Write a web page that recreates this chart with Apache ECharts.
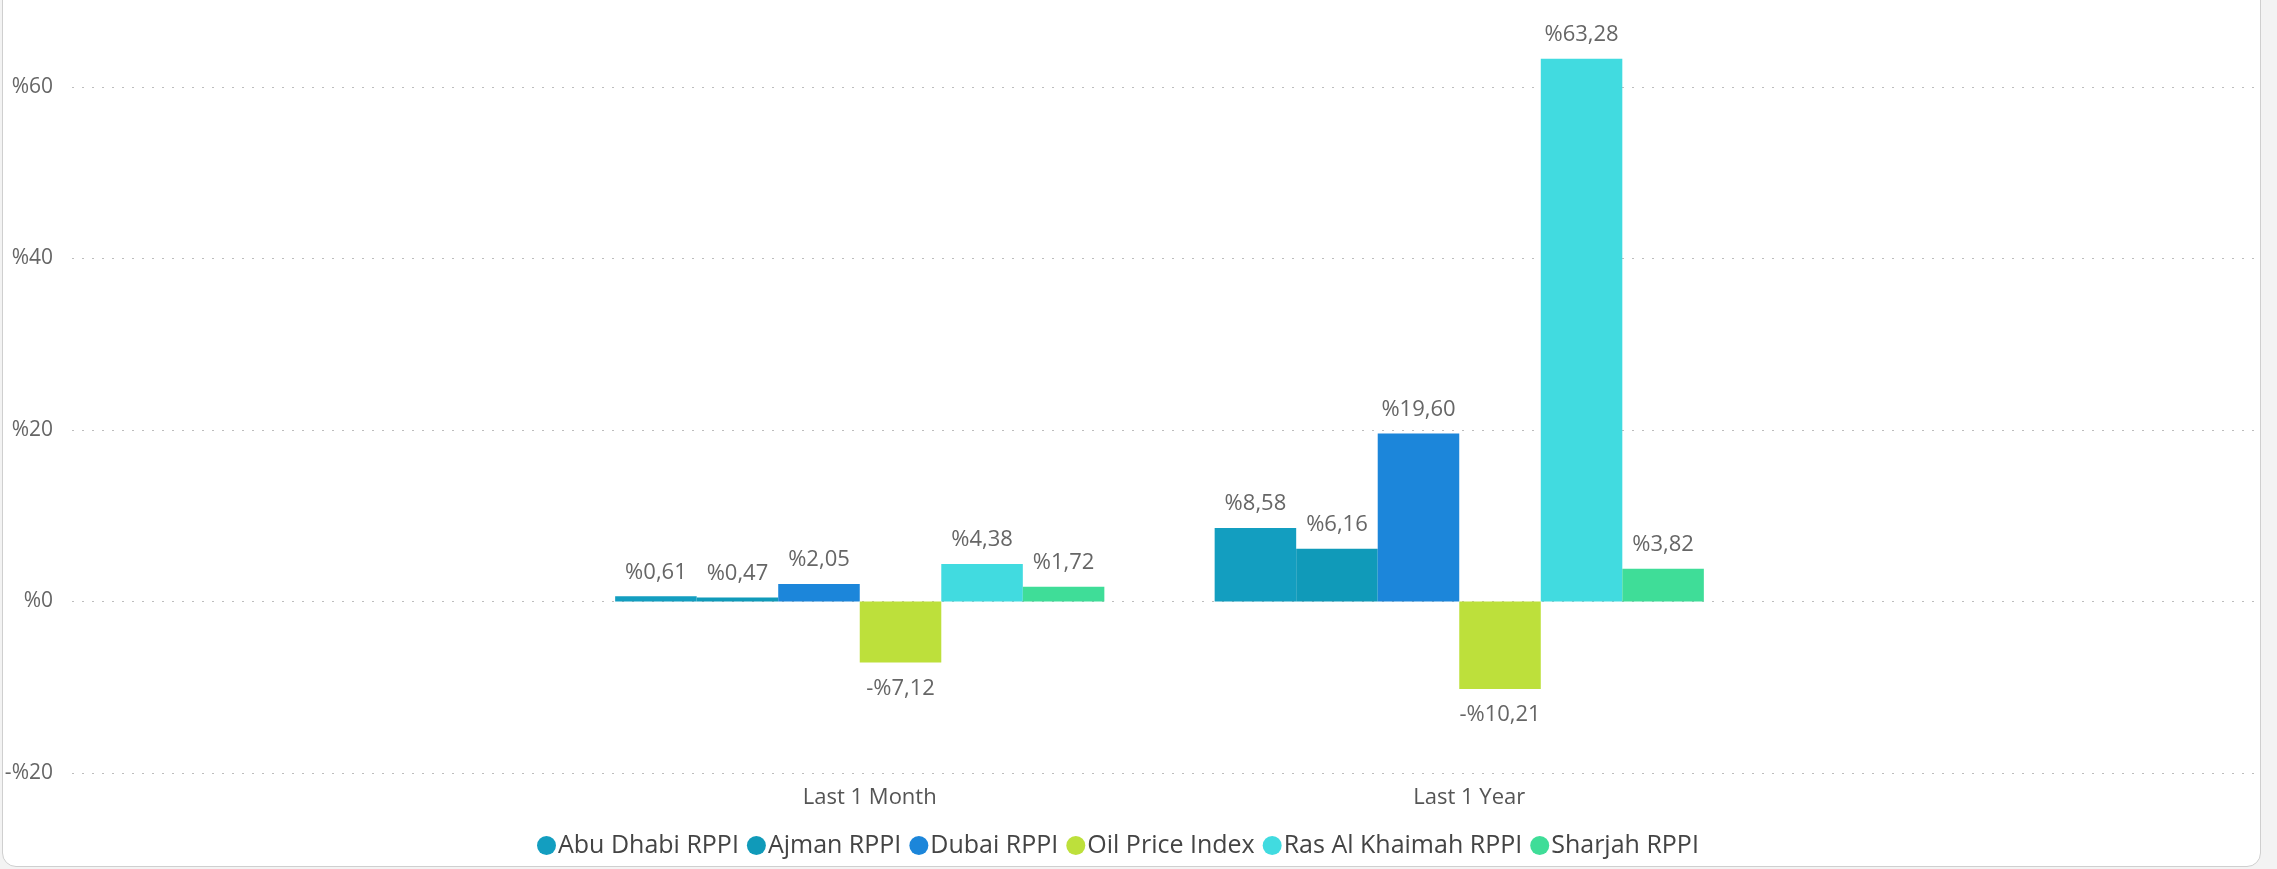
<!DOCTYPE html>
<html>
<head>
<meta charset="utf-8">
<script src="https://cdn.jsdelivr.net/npm/echarts@6/dist/echarts.min.js"></script>
<style>
  html, body { margin: 0; padding: 0; background: #f3f3f3; }
  .card {
    position: absolute; left: 2px; top: -20px; width: 2257px; height: 885px;
    background: #fff; border: 1.5px solid #cfcfcf; border-radius: 14px;
  }
  #chart { position: absolute; left: 0; top: 0; width: 2277px; height: 869px; }
</style>
</head>
<body>
<div class="card"></div>
<div id="chart"></div>
<script>
// データ
var categories = ['Last 1 Month', 'Last 1 Year'];
var seriesNames = ['Abu Dhabi RPPI', 'Ajman RPPI', 'Dubai RPPI', 'Oil Price Index', 'Ras Al Khaimah RPPI', 'Sharjah RPPI'];
var abuDhabi = [0.61, 8.58];
var ajman = [0.47, 6.16];
var dubai = [2.05, 19.60];
var oilPrice = [-7.12, -10.21];
var rasAlKhaimah = [4.38, 63.28];
var sharjah = [1.72, 3.82];
var yTicks = [-20, 0, 20, 40, 60];

var colors = ['#139ec0', '#109ab9', '#1c86da', '#bde03b', '#41dbe0', '#3fdd98'];
var values = [abuDhabi, ajman, dubai, oilPrice, rasAlKhaimah, sharjah];

var font = 'Open Sans';

// %1,23 形式
function pct(v) {
  var s = Math.abs(v).toFixed(2).replace('.', ',');
  return (v < 0 ? '-%' : '%') + s;
}

var myChart = echarts.init(document.getElementById('chart'));

var option = {
  color: colors,
  textStyle: { fontFamily: font },
  legend: {
    data: seriesNames,
    bottom: 6,
    left: 532,
    icon: 'circle',
    itemWidth: 19,
    itemHeight: 19,
    itemGap: 8,
    textStyle: { fontFamily: font, fontSize: 25, color: '#444', padding: [0, 0, 0, -3] }
  },
  // grid 0: 軸とグリッド線, grid 1: 棒グラフ
  grid: [
    { left: 72, right: 22, top: 87, bottom: 96 },
    { left: 560, right: 518, top: 87, bottom: 96 }
  ],
  xAxis: [
    { gridIndex: 0, type: 'value', min: 0, max: 1, show: false },
    {
      gridIndex: 1, type: 'category', data: categories,
      axisLine: { show: false }, axisTick: { show: false },
      axisLabel: { fontFamily: font, fontSize: 22, color: '#555', margin: 14, padding: [0, 0, 0, 20] }
    }
  ],
  yAxis: [
    {
      gridIndex: 0, type: 'value', min: yTicks[0], max: yTicks[yTicks.length - 1], interval: 20,
      axisLine: { show: false }, axisTick: { show: false },
      axisLabel: {
        fontFamily: font, fontSize: 21, color: '#666', margin: 19,
        formatter: function (v) { return v < 0 ? '-%' + Math.abs(v) : '%' + v; }
      },
      splitLine: { lineStyle: { color: '#bdbdbd', type: [2, 8], width: 1 } }
    },
    { gridIndex: 1, type: 'value', min: yTicks[0], max: yTicks[yTicks.length - 1], show: false }
  ],
  series: seriesNames.map(function (name, i) {
    return {
      name: name,
      type: 'bar',
      xAxisIndex: 1,
      yAxisIndex: 1,
      clip: false,
      barGap: '0%',
      barCategoryGap: '18.4%',
      data: values[i].map(function (v) {
        return {
          value: v,
          label: { position: v < 0 ? 'bottom' : 'top', distance: v < 0 ? 15 : 13 }
        };
      }),
      label: {
        show: true,
        fontFamily: font,
        fontSize: 22,
        color: '#666',
        formatter: function (p) { return pct(p.value); }
      }
    };
  })
};

myChart.setOption(option);
</script>
</body>
</html>
